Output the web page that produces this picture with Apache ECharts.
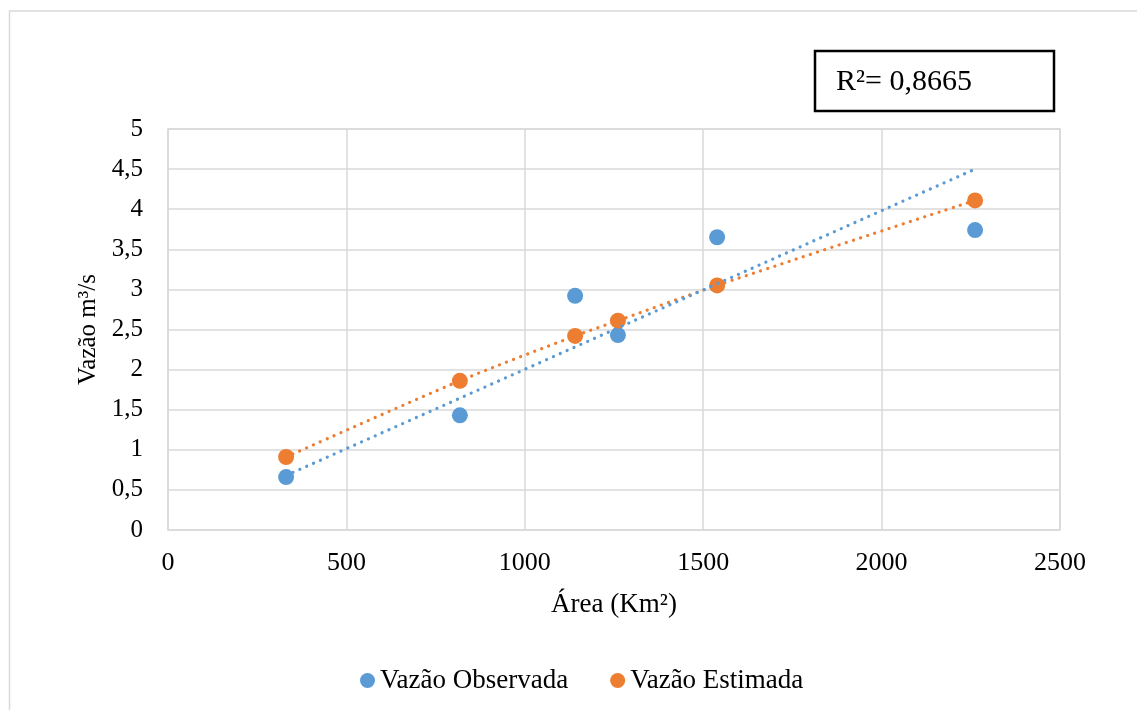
<!DOCTYPE html>
<html>
<head>
<meta charset="utf-8">
<script src="https://cdn.jsdelivr.net/npm/echarts@6/dist/echarts.min.js"></script>
<style>
  html, body { margin: 0; padding: 0; background: #fff; }
  #chart { width: 1137px; height: 710px; }
</style>
</head>
<body>
<div id="chart"></div>
<script>
// Drainage area (km²) of each gauged basin
const areas = [331, 818, 1141, 1261, 1539, 2262];
// Observed mean discharge (m³/s)
const observed = [0.66, 1.43, 2.92, 2.43, 3.65, 3.74];
// Estimated discharge from the regional equation (m³/s)
const estimated = [0.91, 1.86, 2.42, 2.61, 3.05, 4.11];
// Trend line end points for the observed series
const observedTrend = [[331, 0.68], [2262, 4.5]];
const rSquaredText = 'R²= 0,8665';

const xTicks = { min: 0, max: 2500, interval: 500 };
const yTicks = { min: 0, max: 5, interval: 0.5 };

const BLUE = '#5B9BD5';
const ORANGE = '#ED7D31';
const FONT = '"Liberation Serif", "Times New Roman", serif';
const GRID_COLOR = '#d9d9d9';

const pairs = (xs, ys) => xs.map((x, i) => [x, ys[i]]);

const chart = echarts.init(document.getElementById('chart'), null, { renderer: 'canvas' });

const dotted = {
  width: 3.2,
  cap: 'round',
  type: [0.1, 7.4]
};

chart.setOption({
  backgroundColor: '#fff',
  animation: false,
  textStyle: { fontFamily: FONT, color: '#000' },
  grid: {
    left: 168, right: 77, top: 129, bottom: 180,
    show: true, borderColor: GRID_COLOR, borderWidth: 1.5,
    containLabel: false
  },
  xAxis: {
    type: 'value',
    min: xTicks.min, max: xTicks.max, interval: xTicks.interval,
    name: 'Área (Km²)',
    nameLocation: 'middle',
    nameGap: 61,
    nameTextStyle: { fontFamily: FONT, fontSize: 27, color: '#000' },
    axisLine: { show: false },
    axisTick: { show: false },
    axisLabel: {
      fontFamily: FONT, fontSize: 26, color: '#000', margin: 20,
      formatter: v => String(v)
    },
    splitLine: { show: true, lineStyle: { color: GRID_COLOR, width: 1.5 } }
  },
  yAxis: {
    type: 'value',
    min: yTicks.min, max: yTicks.max, interval: yTicks.interval,
    name: 'Vazão m³/s',
    nameLocation: 'middle',
    nameGap: 63,
    nameTextStyle: { fontFamily: FONT, fontSize: 25, color: '#000' },
    axisLine: { show: false },
    axisTick: { show: false },
    axisLabel: {
      fontFamily: FONT, fontSize: 25, color: '#000', margin: 25,
      formatter: v => String(v).replace('.', ',')
    },
    splitLine: { show: true, lineStyle: { color: GRID_COLOR, width: 1.5 } }
  },
  legend: {
    data: ['Vazão Observada', 'Vazão Estimada'],
    bottom: 11,
    left: 355,
    icon: 'circle',
    itemWidth: 15,
    itemHeight: 15,
    itemGap: 42,
    textStyle: { fontFamily: FONT, fontSize: 27, color: '#000' }
  },
  series: [
    {
      name: 'Vazão Observada',
      type: 'scatter',
      data: pairs(areas, observed),
      symbol: 'circle',
      symbolSize: 16,
      itemStyle: { color: BLUE, opacity: 1 },
      z: 2
    },
    {
      name: 'Vazão Estimada',
      type: 'scatter',
      data: pairs(areas, estimated),
      symbol: 'circle',
      symbolSize: 16,
      itemStyle: { color: ORANGE, opacity: 1 },
      z: 2
    },
    {
      name: 'trend-estimated',
      type: 'line',
      data: pairs(areas, estimated),
      smooth: 0.3,
      showSymbol: false,
      silent: true,
      lineStyle: Object.assign({ color: ORANGE }, dotted),
      z: 3
    },
    {
      name: 'trend-observed',
      type: 'line',
      data: observedTrend,
      showSymbol: false,
      silent: true,
      lineStyle: Object.assign({ color: BLUE }, dotted),
      z: 4
    }
  ],
  graphic: [
    // chart frame (left and top edges)
    {
      type: 'polyline',
      shape: { points: [[9.5, 710], [9.5, 11], [1137, 11]] },
      style: { stroke: GRID_COLOR, lineWidth: 1.5, fill: null },
      silent: true
    },
    // R² annotation box
    {
      type: 'rect',
      shape: { x: 815, y: 51, width: 239, height: 60 },
      style: { fill: '#fff', stroke: '#000', lineWidth: 2.5 },
      silent: true
    },
    {
      type: 'text',
      x: 836, y: 82,
      style: {
        text: rSquaredText,
        fontFamily: FONT, fontSize: 30, fill: '#000',
        verticalAlign: 'middle', align: 'left'
      },
      silent: true
    }
  ]
});
</script>
</body>
</html>
